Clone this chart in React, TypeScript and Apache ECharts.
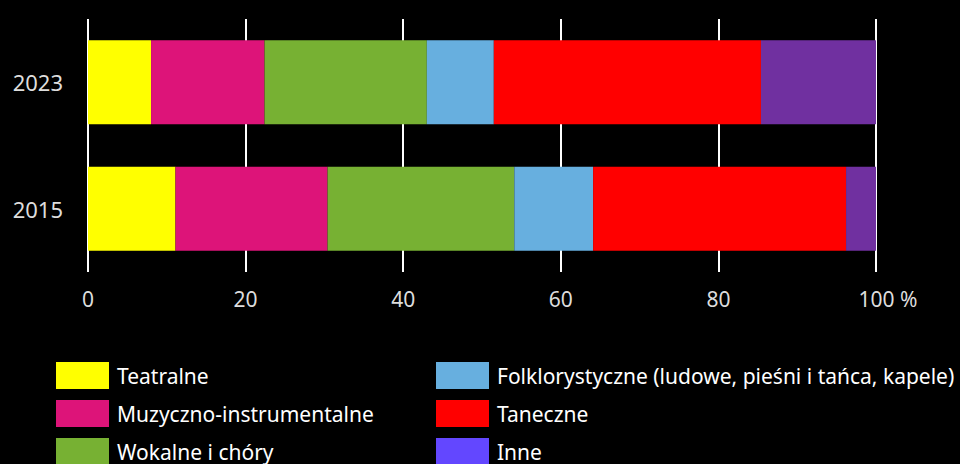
import React, { useEffect, useRef } from "react";
import * as echarts from "echarts";

const years = ["2015", "2023"];
const seriesNames = [
  "Teatralne",
  "Muzyczno-instrumentalne",
  "Wokalne i chóry",
  "Folklorystyczne (ludowe, pieśni i tańca, kapele)",
  "Taneczne",
  "Inne",
];
const teatralne = [11.1, 8.0];
const muzyczne = [19.3, 14.4];
const wokalne = [23.7, 20.6];
const folklor = [10.0, 8.5];
const taneczne = [32.1, 33.9];
const inne = [3.8, 14.6];
const xTicks = [0, 20, 40, 60, 80, 100];

const seriesData = [teatralne, muzyczne, wokalne, folklor, taneczne, inne];
const barColors = ["#ffff00", "#dd1479", "#77b133", "#67afdf", "#ff0000", "#7030a0"];
const legendColors = ["#ffff00", "#dd1479", "#77b133", "#67afdf", "#ff0000", "#6347ff"];

const FONT = "'Noto Sans', 'Open Sans', sans-serif";

export default function App() {
  const ref = useRef<HTMLDivElement>(null);
  useEffect(() => {
    document.body.style.margin = "0";
    document.body.style.background = "#000";
    const chart = echarts.init(ref.current!, null, { renderer: "svg" });
    const legends = seriesNames.map((name, i) => ({
      orient: "horizontal" as const,
      icon: "rect",
      itemWidth: 53,
      itemHeight: 27,
      left: i < 3 ? 51 : 431,
      top: 357 + (i % 3) * 38,
      selectedMode: false,
      data: [{ name, itemStyle: { color: legendColors[i] } }],
      textStyle: {
        color: "#ffffff",
        fontSize: 21,
        fontFamily: FONT,
        lineHeight: 27,
        padding: [0, 0, 0, 3],
      },
    }));
    chart.setOption({
      animation: false,
      backgroundColor: "#000000",
      grid: { left: 88, right: 84, top: 19, bottom: 192, containLabel: false },
      legend: legends,
      xAxis: {
        type: "value",
        min: 0,
        max: 100,
        interval: 20,
        axisLine: { show: false },
        axisTick: { show: false },
        splitLine: { show: true, lineStyle: { color: "#ffffff", width: 2 } },
        axisLabel: {
          color: "#dddddd",
          fontSize: 21,
          fontFamily: FONT,
          margin: 16,
          formatter: (v: number) =>
            xTicks.includes(v) ? (v === 100 ? "{p|100 %}" : String(v)) : "",
          rich: {
            p: { color: "#dddddd", fontSize: 21, fontFamily: FONT, padding: [0, 0, 0, 24] },
          },
        },
      },
      yAxis: {
        type: "category",
        data: years,
        axisLine: { show: false },
        axisTick: { show: false },
        axisLabel: { color: "#dddddd", fontSize: 22, fontFamily: FONT, margin: 25 },
      },
      series: seriesNames.map((name, i) => ({
        name,
        type: "bar",
        stack: "total",
        barWidth: 84,
        data: seriesData[i],
        itemStyle: { color: barColors[i] },
        z: 3,
      })),
    });
    return () => chart.dispose();
  }, []);
  return <div ref={ref} style={{ width: 960, height: 464 }} />;
}
